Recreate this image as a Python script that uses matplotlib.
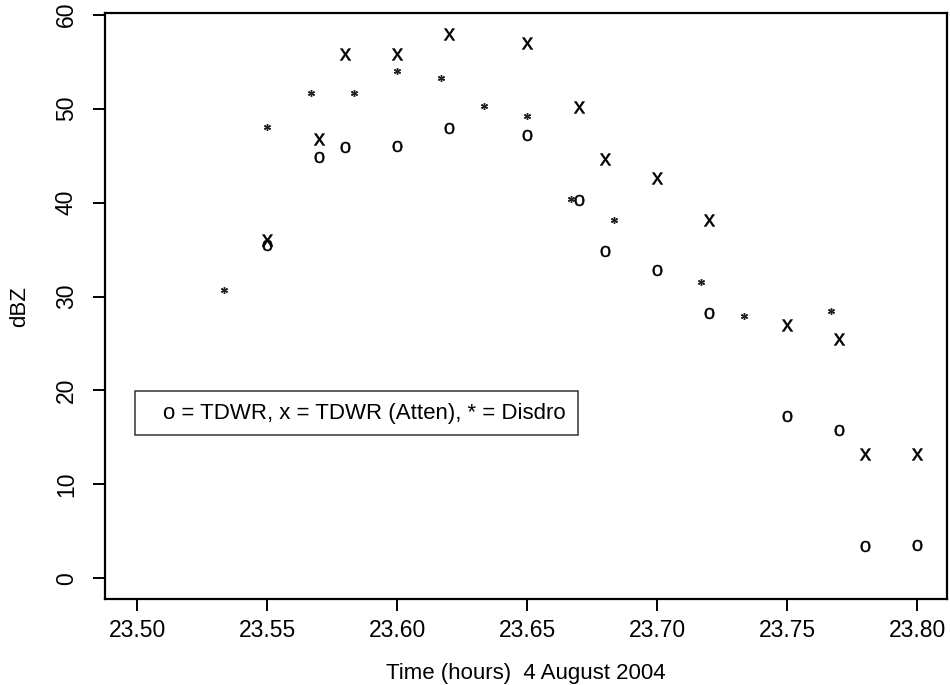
import matplotlib
matplotlib.use("Agg")
import matplotlib.pyplot as plt
from matplotlib.patches import Rectangle

plt.rcParams['font.family'] = ['Liberation Sans', 'DejaVu Sans']
plt.rcParams['mathtext.fontset'] = 'custom'
plt.rcParams['mathtext.rm'] = 'Liberation Sans'

# TDWR times (hours) and reflectivities
tdwr_time = [23.55, 23.57, 23.58, 23.60, 23.62, 23.65, 23.67, 23.68,
             23.70, 23.72, 23.75, 23.77, 23.78, 23.80]
tdwr_dbz = [35.5, 44.9, 45.9, 46.05, 47.9, 47.2, 40.3, 34.9,
            32.85, 28.3, 17.3, 15.8, 3.45, 3.55]
atten_dbz = [36.0, 46.8, 55.8, 55.8, 57.9, 57.0, 50.2, 44.6,
             42.6, 38.1, 27.0, 25.5, 13.2, 13.2]

# disdrometer, one-minute samples
disdro_time = [23.5333, 23.55, 23.5667, 23.5833, 23.60, 23.6167, 23.6333,
               23.65, 23.6667, 23.6833, 23.7167, 23.7333, 23.7667]
disdro_dbz = [30.7, 48.0, 51.7, 51.7, 54.0, 53.3, 50.3,
              49.25, 40.4, 38.2, 31.6, 27.9, 28.5]

x_ticks = [23.50, 23.55, 23.60, 23.65, 23.70, 23.75, 23.80]
y_ticks = [0, 10, 20, 30, 40, 50, 60]
legend_text = 'o = TDWR, x = TDWR (Atten), * = Disdro'

fig = plt.figure(figsize=(9.5, 6.85), dpi=100)
ax = fig.add_axes([0.1105, 0.1255, 0.8863, 0.8555])

ax.plot(tdwr_time, tdwr_dbz, linestyle='none', marker='$\\mathrm{o}$',
        ms=8, color='black', mew=0.25)
ax.plot(tdwr_time, atten_dbz, linestyle='none', marker='$\\mathrm{x}$',
        ms=8.5, color='black', mew=0.35)
ax.plot(disdro_time, disdro_dbz, linestyle='none', marker=(6, 2, 0),
        ms=5, color='#222222', mew=1.0)

ax.set_xlim(23.4876, 23.8114)
ax.set_ylim(-2.2, 60.18)
ax.set_xticks(x_ticks)
ax.set_xticklabels(['%.2f' % t for t in x_ticks])
ax.set_yticks(y_ticks)
ax.set_yticklabels([str(t) for t in y_ticks], rotation=90, va='center')

for s in ax.spines.values():
    s.set_linewidth(1.6)
ax.tick_params(length=8.5, width=1.4, labelsize=16.5)
ax.tick_params(axis='x', pad=6)
ax.tick_params(axis='y', pad=11)

ax.set_xlabel('Time (hours)  4 August 2004', fontsize=16, labelpad=15)
ax.set_ylabel('dBZ', fontsize=16, labelpad=18)

# legend box, top-left corner at (23.5, 20)
ax.add_patch(Rectangle((23.4991, 15.26), 0.1704, 4.72, fill=False,
                       edgecolor='#333333', linewidth=1.1))
ax.text(23.5098, 17.6, legend_text, fontsize=16.0, va='center', ha='left')

fig.savefig('out.png', dpi=100)
